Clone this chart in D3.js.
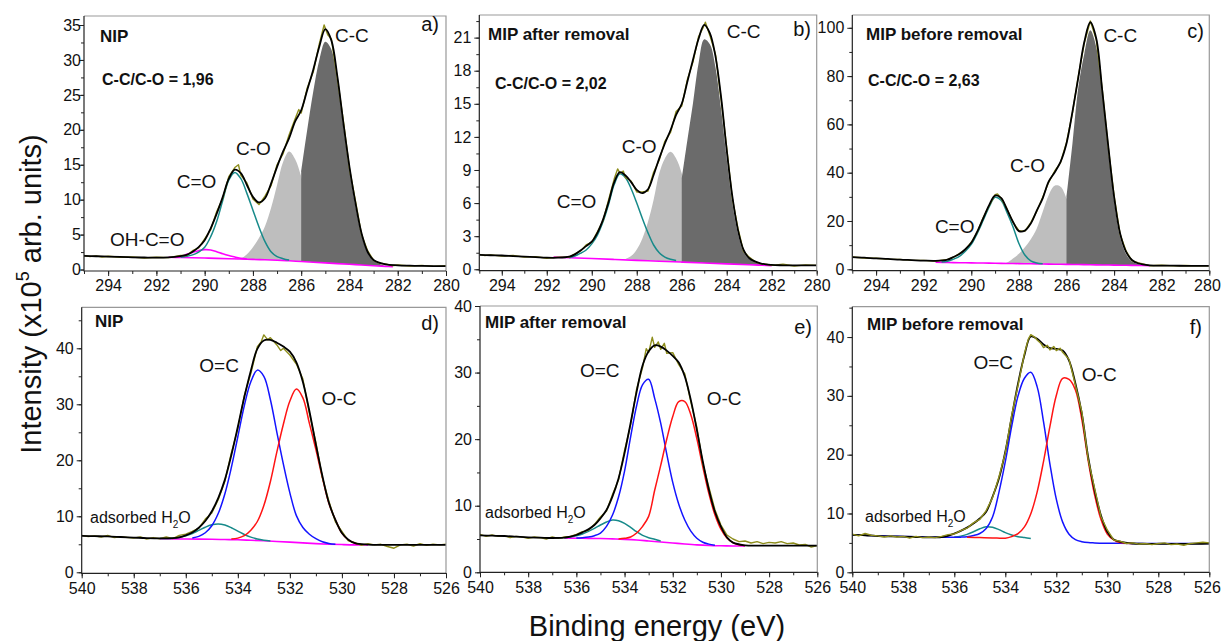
<!DOCTYPE html>
<html>
<head>
<meta charset="utf-8">
<script src="https://cdnjs.cloudflare.com/ajax/libs/d3/7.8.5/d3.min.js"></script>
<style>
  body { margin: 0; background: #fff; }
  svg { display: block; font-family: 'Liberation Sans', Arial, sans-serif; }
</style>
</head>
<body>
<svg id="chart" width="1221" height="641"></svg>
<script>
  //
  // Data: [binding energy (eV), intensity (x10^5)]
  //
  var c1sTicks = [294, 292, 290, 288, 286, 284, 282, 280]
  var o1sTicks = [540, 538, 536, 534, 532, 530, 528, 526]
  var aTicks = [0, 5, 10, 15, 20, 25, 30, 35]
  var bTicks = [0, 3, 6, 9, 12, 15, 18, 21]
  var cTicks = [0, 20, 40, 60, 80, 100]
  var oTicks = [0, 10, 20, 30, 40]

  // a) C1s NIP
  var aRaw = [[295,2.0],[294.75,1.85],[294.5,1.95],[294.25,1.8],[294,1.9],[293.5,1.75],[293,1.8],[292.5,1.65],[292,1.75],[291.5,1.7],[291,2.0],[290.75,2.0],[290.5,2.7],[290.25,3.1],[290,4.4],[289.75,5.7],[289.5,8.3],[289.25,10.2],[289,13.3],[288.75,14.6],[288.6,15.0],[288.5,13.5],[288.25,12.4],[288,10.1],[287.75,9.3],[287.5,10.5],[287.25,12.0],[287,15.0],[286.75,16.6],[286.5,19.3],[286.25,21.6],[286.1,22.9],[286,22.4],[285.75,26.0],[285.5,28.3],[285.25,32.3],[285.05,35.0],[284.9,33.6],[284.75,33.0],[284.5,27.3],[284.25,21.2],[284,14.4],[283.75,9.8],[283.5,5.0],[283.25,2.7],[283,1.3],[282.75,0.9],[282.5,0.8],[282.25,0.55],[282,0.65],[281.5,0.5],[281,0.6],[280.5,0.45],[280,0.55]]
  var aFit = [[295,1.95],[294.5,1.9],[294,1.85],[293.5,1.8],[293,1.75],[292.5,1.72],[292,1.7],[291.5,1.75],[291,1.93],[290.75,2.1],[290.5,2.55],[290.25,3.2],[290,4.2],[289.75,5.9],[289.5,8.0],[289.25,10.4],[289,13.0],[288.75,14.3],[288.5,13.8],[288.25,12.1],[288,10.4],[287.75,9.6],[287.5,10.2],[287.25,12.3],[287,14.7],[286.75,16.9],[286.5,18.8],[286.25,21.2],[286,22.8],[285.75,25.7],[285.5,28.6],[285.25,31.9],[285,34.4],[284.75,32.8],[284.5,27.6],[284.25,20.9],[284,14.7],[283.75,9.5],[283.5,5.2],[283.25,2.55],[283,1.36],[282.5,0.74],[282,0.6],[281.5,0.55],[281,0.52],[280.5,0.5],[280,0.5]]
  var aBg = [[291.5,1.75],[291,1.72],[290.5,1.68],[290,1.64],[289.5,1.6],[289,1.55],[288.5,1.5],[288,1.45],[287.5,1.4],[287,1.33],[286.5,1.25],[286,1.15],[285.5,1.05],[285,0.95],[284.5,0.85],[284,0.75],[283.5,0.65],[283,0.55],[282.5,0.45],[282.2,0.4]]
  var aCOOH = [[291,1.75],[290.75,2.2],[290.5,2.45],[290.25,2.7],[290,2.85],[289.75,2.8],[289.5,2.55],[289.25,2.25],[289,2.0],[288.75,1.8],[288.5,1.6],[288.25,1.5]]
  var aCdO = [[291,1.75],[290.75,1.9],[290.5,2.1],[290.25,2.5],[290,3.2],[289.75,4.7],[289.5,6.9],[289.25,9.9],[289,12.8],[288.75,13.9],[288.5,13.0],[288.25,10.9],[288,8.5],[287.75,6.1],[287.5,4.0],[287.25,2.55],[287,1.84],[286.75,1.55],[286.5,1.35]]
  var aCO = [[288.75,1.45],[288.5,1.6],[288.25,2.2],[288,3.2],[287.75,4.5],[287.5,6.2],[287.25,8.8],[287,12.1],[286.75,15.4],[286.5,16.9],[286.25,15.8],[286,13.3],[285.75,10.2],[285.5,7.3],[285.25,5.2],[285,3.75],[284.75,2.3],[284.5,1.6],[284.25,1.2],[284,0.9]]
  var aCC = [[286,14],[285.75,20],[285.5,25.5],[285.25,30],[285,32.6],[284.75,31.5],[284.5,26.8],[284.25,20.3],[284,14.1],[283.75,9.0],[283.5,4.9],[283.25,2.4],[283,1.3],[282.75,0.8],[282.5,0.5]]

  // b) C1s MIP after removal
  var bRaw = [[295,1.35],[294.75,1.25],[294.5,1.3],[294,1.2],[293.5,1.25],[293,1.1],[292.5,1.15],[292,1.0],[291.5,1.1],[291,1.1],[290.75,1.4],[290.5,1.65],[290.25,2.2],[290,2.45],[289.75,3.4],[289.5,4.4],[289.25,6.3],[289,8.2],[288.85,9.1],[288.75,8.7],[288.6,8.9],[288.5,8.3],[288.25,8.0],[288,7.0],[287.75,7.0],[287.5,7.1],[287.25,8.8],[287,9.9],[286.75,11.6],[286.5,12.4],[286.25,14.3],[286,14.8],[285.75,17.2],[285.5,18.8],[285.25,21.1],[285.05,21.9],[284.95,22.4],[284.75,21.2],[284.5,19.5],[284.25,15.4],[284,11.0],[283.75,6.4],[283.5,3.7],[283.25,1.6],[283,1.1],[282.75,0.7],[282.5,0.5],[282.25,0.45],[282,0.35],[281.5,0.45],[281,0.3],[280.5,0.4],[280,0.35]]
  var bFit = [[295,1.3],[294.5,1.27],[294,1.25],[293.5,1.2],[293,1.15],[292.5,1.1],[292,1.05],[291.5,1.05],[291,1.15],[290.75,1.35],[290.5,1.7],[290.25,2.1],[290,2.5],[289.75,3.3],[289.5,4.5],[289.25,6.1],[289,7.9],[288.75,8.8],[288.5,8.5],[288.25,7.9],[288,7.2],[287.75,6.9],[287.5,7.25],[287.25,8.55],[287,10.05],[286.75,11.4],[286.5,12.6],[286.25,14.0],[286,15.0],[285.75,17.0],[285.5,19.0],[285.25,20.9],[285,22.15],[284.75,21.4],[284.5,19.3],[284.25,15.6],[284,10.8],[283.75,6.6],[283.5,3.55],[283.25,1.75],[283,1.0],[282.5,0.54],[282,0.39],[281.5,0.36],[281,0.35],[280.5,0.35],[280,0.35]]
  var bBg = [[291.7,1.1],[291,1.05],[290,0.97],[289,0.89],[288,0.81],[287,0.73],[286,0.65],[285,0.57],[284,0.49],[283,0.41],[282,0.33]]
  var bCdO = [[291,1.05],[290.75,1.2],[290.5,1.45],[290.25,1.75],[290,2.3],[289.75,3.1],[289.5,4.3],[289.25,5.9],[289,7.7],[288.75,8.65],[288.5,8.3],[288.25,7.3],[288,6.0],[287.75,4.6],[287.5,3.3],[287.25,2.2],[287,1.5],[286.75,1.1],[286.5,0.9],[286.25,0.8]]
  var bCO = [[288.5,0.95],[288.25,1.2],[288,1.8],[287.75,2.8],[287.5,4.3],[287.25,6.3],[287,8.7],[286.75,10.05],[286.5,10.65],[286.25,10.05],[286,8.7],[285.75,6.6],[285.5,4.6],[285.25,3.1],[285,2.2],[284.75,1.6],[284.5,1.2],[284.25,0.9],[284,0.7]]
  var bCC = [[286,8.2],[285.75,11.7],[285.5,15.05],[285.25,18.7],[285,20.85],[284.75,20.4],[284.5,18.3],[284.25,14.5],[284,10.0],[283.75,6.0],[283.5,3.2],[283.25,1.6],[283,0.9],[282.5,0.48],[282,0.35]]

  // c) C1s MIP before removal
  var cRaw = [[295,5.1],[294.5,4.7],[294,4.6],[293.5,4.2],[293,4.1],[292.5,3.7],[292,3.7],[291.5,3.4],[291,4.1],[290.75,5.0],[290.5,6.5],[290.25,8.2],[290,11.2],[289.75,15.4],[289.5,21.4],[289.25,26.3],[289,30.9],[288.9,31.2],[288.75,29.4],[288.5,25.1],[288.25,19.5],[288,16.0],[287.75,15.8],[287.5,19.3],[287.25,24.0],[287,29.8],[286.75,36.0],[286.5,40.6],[286.25,44.2],[286,52.5],[285.75,64.8],[285.5,80.2],[285.25,93.8],[285,102.8],[284.75,95.2],[284.5,74.6],[284.25,51.0],[284,30.4],[283.75,14.6],[283.5,7.6],[283.25,3.6],[283,2.7],[282.5,1.5],[282,1.7],[281.5,1.4],[281,1.6],[280.5,1.4],[280,1.5]]
  var cFit = [[295,5.0],[294.5,4.8],[294,4.5],[293.5,4.3],[293,4.0],[292.5,3.8],[292,3.6],[291.5,3.5],[291,4.0],[290.75,5.1],[290.5,6.3],[290.25,8.3],[290,11.0],[289.75,15.6],[289.5,21.1],[289.25,26.6],[289,30.5],[288.75,29.6],[288.5,24.8],[288.25,19.7],[288,15.8],[287.75,16.0],[287.5,19.0],[287.25,24.3],[287,29.4],[286.75,36.3],[286.5,40.1],[286.25,44.5],[286,52.1],[285.75,65.2],[285.5,79.7],[285.25,94.2],[285,102.3],[284.75,95.6],[284.5,74.2],[284.25,51.4],[284,30.0],[283.75,14.9],[283.5,7.3],[283.25,3.85],[283,2.5],[282.5,1.65],[282,1.5],[281.5,1.5],[281,1.45],[280.5,1.45],[280,1.45]]
  var cBg = [[291.5,2.9],[291,2.82],[290.5,2.74],[290,2.67],[289.5,2.59],[289,2.51],[288.5,2.43],[288,2.36],[287.5,2.28],[287,2.2],[286.5,2.12],[286,2.04],[285.5,1.97],[285,1.89],[284.5,1.81],[284,1.73],[283.5,1.66],[283,1.58],[282.5,1.5]]
  var cCdO = [[291.25,3.0],[291,3.3],[290.75,4.2],[290.5,5.4],[290.25,7.5],[290,10.3],[289.75,14.9],[289.5,20.3],[289.25,25.8],[289,29.8],[288.75,28.6],[288.5,23.5],[288.25,17.6],[288,10.7],[287.75,5.9],[287.5,3.5],[287.25,2.6],[287,2.3]]
  var cCO = [[288.75,2.5],[288.5,2.8],[288.25,4.5],[288,6.4],[287.75,9.1],[287.5,12.4],[287.25,16.9],[287,23.8],[286.75,30.7],[286.5,34.6],[286.25,34.2],[286,29.4],[285.75,23],[285.5,16],[285.25,10.5],[285,6.5],[284.75,4],[284.5,2.8],[284.25,2.2],[284,1.9]]
  var cCC = [[286,30],[285.75,52.1],[285.5,75.6],[285.25,89.4],[285,99],[284.75,92.1],[284.5,72.8],[284.25,49.4],[284,28.0],[283.75,13.5],[283.5,6.3],[283.25,3.2],[283,2.2],[282.5,1.5]]

  // d) O1s NIP
  var dRaw = [[540,6.6],[539.75,6.4],[539.5,6.5],[539.25,6.3],[539,6.6],[538.75,6.2],[538.5,6.35],[538,6.1],[537.75,6.3],[537.5,5.95],[537.25,6.2],[537,6.0],[536.75,6.3],[536.5,6.0],[536.25,6.6],[536,6.8],[535.75,7.3],[535.5,7.9],[535.25,9.5],[535,10.6],[534.75,13.0],[534.5,16.2],[534.25,21.3],[534,25.6],[533.75,31.6],[533.5,35.5],[533.25,40.3],[533.1,41.2],[533,42.4],[532.85,41.5],[532.75,41.9],[532.5,40.6],[532.35,39.6],[532.25,40.0],[532,38.8],[531.75,37.2],[531.5,34.5],[531.25,28.4],[531,23.2],[530.75,16.9],[530.5,12.7],[530.25,9.0],[530,7.3],[529.75,5.6],[529.5,5.3],[529.25,4.8],[529,5.1],[528.75,4.9],[528.5,5.0],[528.25,4.6],[528,4.3],[527.75,4.9],[527.5,5.0],[527.25,4.7],[527,5.1],[526.75,4.8],[526.5,5.0],[526.25,4.9],[526,5.0]]
  var dFit = [[540,6.5],[539.5,6.45],[539,6.4],[538.5,6.3],[538,6.2],[537.5,6.1],[537,6.05],[536.5,6.1],[536.25,6.25],[536,6.6],[535.75,7.1],[535.5,7.95],[535.25,9.15],[535,10.9],[534.75,13.3],[534.5,16.5],[534.25,20.9],[534,26.0],[533.75,31.3],[533.5,36.0],[533.25,39.9],[533,41.4],[532.75,41.5],[532.5,41.0],[532.25,40.3],[532,39.4],[531.75,37.5],[531.5,34.0],[531.25,28.8],[531,22.8],[530.75,17.2],[530.5,12.4],[530.25,9.35],[530,7.0],[529.75,5.8],[529.5,5.2],[529,4.95],[528.5,4.9],[528,4.9],[527.5,4.9],[527,4.9],[526.5,4.9],[526,4.9]]
  var dBg = [[537,6.0],[536.5,5.97],[536,5.95],[535.5,5.93],[535,5.9],[534.5,5.85],[534,5.8],[533.5,5.72],[533,5.62],[532.5,5.5],[532,5.38],[531.5,5.25],[531,5.12],[530.5,5.02],[530,4.95],[529.5,4.9],[529,4.9]]
  var dH2O = [[537,6.02],[536.5,6.09],[536.25,6.24],[536,6.51],[535.75,6.93],[535.5,7.48],[535.25,8.05],[535,8.48],[534.75,8.63],[534.5,8.43],[534.25,7.96],[534,7.35],[533.75,6.75],[533.5,6.28],[533.25,5.95],[533,5.74],[532.75,5.6]]
  var dOdC = [[535.75,6.13],[535.5,6.42],[535.25,7.06],[535,8.32],[534.75,10.53],[534.5,13.97],[534.25,18.68],[534,24.2],[533.75,29.76],[533.5,34.02],[533.25,36.1],[533,34.98],[532.75,30.86],[532.5,25.0],[532.25,19.3],[532,14.18],[531.75,10.12],[531.5,8.0],[531.25,6.8],[531,6.0],[530.75,5.45],[530.5,5.15],[530.25,5.0]]
  var dOC = [[534.25,5.93],[534,6.1],[533.75,6.54],[533.5,7.52],[533.25,9.07],[533,11.92],[532.75,16.16],[532.5,21.5],[532.25,26.44],[532,30.58],[531.75,32.72],[531.5,31.15],[531.25,26.59],[531,21.92],[530.75,16.87],[530.5,12.32],[530.25,9.35],[530,7.0],[529.75,5.77],[529.5,5.2],[529.25,4.95]]

  // e) O1s MIP after removal
  var eRaw = [[540,5.7],[539.75,5.4],[539.5,5.6],[539.25,5.4],[539,5.5],[538.75,5.2],[538.5,5.4],[538.25,5.3],[538,5.1],[537.75,5.3],[537.5,5.2],[537.25,5.0],[537,5.3],[536.75,5.1],[536.5,5.3],[536.25,5.4],[536,5.7],[535.75,6.1],[535.5,6.3],[535.25,7.2],[535,8.3],[534.75,9.2],[534.5,11.7],[534.25,13.9],[534,18.3],[533.75,22.1],[533.5,27.5],[533.25,30.8],[533.1,33.6],[533,33.0],[532.85,35.3],[532.75,33.8],[532.6,34.6],[532.5,33.5],[532.35,34.4],[532.25,32.9],[532,33.0],[531.75,31.2],[531.5,29.8],[531.25,25.6],[531,21.8],[530.75,16.3],[530.5,12.8],[530.25,9.4],[530,7.1],[529.75,5.6],[529.5,5.0],[529.25,4.6],[529,4.7],[528.75,4.4],[528.5,4.6],[528.25,4.3],[528,4.5],[527.75,4.4],[527.5,4.6],[527.25,4.3],[527,4.4],[526.75,4.1],[526.5,4.2],[526.25,3.8],[526,4.0]]
  var eFit = [[540,5.55],[539.5,5.5],[539,5.45],[538.5,5.35],[538,5.25],[537.5,5.2],[537,5.15],[536.5,5.2],[536.25,5.35],[536,5.6],[535.75,6.0],[535.5,6.45],[535.25,7.1],[535,8.1],[534.75,9.35],[534.5,11.4],[534.25,14.1],[534,17.9],[533.75,22.4],[533.5,27.1],[533.25,31.1],[533,33.2],[532.75,34.1],[532.5,33.9],[532.25,33.3],[532,32.5],[531.75,31.5],[531.5,29.4],[531.25,25.9],[531,21.4],[530.75,16.6],[530.5,12.4],[530.25,9.1],[530,6.85],[529.75,5.25],[529.5,4.45],[529,4.05],[528.5,4.0],[528,4.0],[527.5,4.0],[527,4.0],[526.5,4.0],[526,4.0]]
  var eBg = [[536.5,5.15],[536,5.12],[535.5,5.1],[535,5.07],[534.5,5.02],[534,4.95],[533.5,4.85],[533,4.7],[532.5,4.55],[532,4.4],[531.5,4.25],[531,4.12],[530.5,4.03],[530,3.98],[529.5,3.95],[529,3.95]]
  var eH2O = [[536.5,5.2],[536.25,5.3],[536,5.5],[535.75,5.75],[535.5,6.15],[535.25,6.6],[535,7.1],[534.75,7.55],[534.5,7.85],[534.25,7.75],[534,7.35],[533.75,6.75],[533.5,6.1],[533.25,5.55],[533,5.2],[532.75,4.95],[532.5,4.7]]
  var eOdC = [[536,5.15],[535.75,5.2],[535.5,5.3],[535.25,5.5],[535,5.9],[534.75,6.9],[534.5,8.6],[534.25,11.3],[534,15.2],[533.75,20.3],[533.5,25.0],[533.25,28.2],[533,29.0],[532.75,26.13],[532.5,22.4],[532.25,17.78],[532,13.5],[531.75,10.23],[531.5,7.85],[531.25,6.18],[531,5.12],[530.75,4.52],[530.5,4.23],[530.25,4.05]]
  var eOC = [[534.25,5.0],[534,5.1],[533.75,5.3],[533.5,5.9],[533.25,6.9],[533,8.4],[532.75,12.33],[532.5,16.05],[532.25,19.98],[532,23.4],[531.75,25.63],[531.5,25.65],[531.25,23.68],[531,20.07],[530.75,15.82],[530.5,11.81],[530.25,8.64],[530,6.47],[529.75,5.16],[529.5,4.47],[529.25,4.15],[529,4.02]]

  // f) O1s MIP before removal
  var fRaw = [[540,6.5],[539.75,6.2],[539.5,6.6],[539.25,6.3],[539,6.2],[538.75,6.0],[538.5,6.2],[538.25,6.0],[538,6.1],[537.75,5.8],[537.5,6.1],[537.25,5.9],[537,6.0],[536.75,5.9],[536.5,6.1],[536.25,6.4],[536,6.5],[535.75,7.1],[535.5,7.5],[535.25,8.4],[535,9.0],[534.75,10.5],[534.5,12.7],[534.25,16.2],[534,20.3],[533.75,26.7],[533.5,31.8],[533.25,37.2],[533.1,39.6],[533,40.4],[532.85,40.0],[532.75,39.5],[532.6,38.9],[532.5,38.2],[532.35,38.6],[532.25,37.8],[532.1,38.4],[532,37.7],[531.85,38.1],[531.75,37.4],[531.5,36.2],[531.25,31.8],[531,27.3],[530.75,19.2],[530.5,14.3],[530.25,9.5],[530,7.2],[529.75,5.5],[529.5,5.3],[529.25,4.9],[529,5.0],[528.75,4.8],[528.5,4.9],[528.25,4.7],[528,4.9],[527.75,5.0],[527.5,4.7],[527.25,4.8],[527,4.6],[526.75,4.9],[526.5,5.0],[526.25,5.1],[526,5.0]]
  var fFit = [[540,6.35],[539.5,6.3],[539,6.15],[538.5,6.1],[538,6.05],[537.5,6.0],[537,5.95],[536.5,6.0],[536.25,6.2],[536,6.6],[535.75,7.05],[535.5,7.6],[535.25,8.3],[535,9.15],[534.75,10.3],[534.5,12.85],[534.25,15.95],[534,20.5],[533.75,26.4],[533.5,32.1],[533.25,36.9],[533,40.1],[532.75,39.7],[532.5,38.75],[532.25,38.1],[532,38.0],[531.75,37.7],[531.5,36.0],[531.25,32.1],[531,27.0],[530.75,19.6],[530.5,14.0],[530.25,9.7],[530,6.9],[529.75,5.6],[529.5,5.2],[529,4.9],[528.5,4.85],[528,4.85],[527.5,4.85],[527,4.85],[526.5,4.85],[526,4.9]]
  var fH2O = [[536,6.0],[535.75,6.15],[535.5,6.45],[535.25,6.9],[535,7.4],[534.75,7.75],[534.5,7.65],[534.25,7.25],[534,6.75],[533.75,6.35],[533.5,6.05],[533.25,5.9],[533,5.75]]
  var fOdC = [[540,6.35],[539.5,6.3],[539,6.2],[538.5,6.15],[538,6.1],[537.5,6.05],[537,6.0],[536.5,5.98],[536,5.96],[535.75,5.98],[535.5,6.05],[535.25,6.25],[535,6.6],[534.75,7.45],[534.5,9.4],[534.25,13.6],[534,18.8],[533.75,24.8],[533.5,30.0],[533.25,33.0],[533,34.0],[532.75,31.53],[532.5,25.57],[532.25,18.41],[532,12.43],[531.75,8.53],[531.5,6.48],[531.25,5.56],[531,5.21],[530.75,5.05],[530.5,5.0],[530,4.95],[529.5,4.92],[529,4.9],[528.5,4.9],[528,4.9],[527.5,4.9],[527,4.9],[526.5,4.9],[526,4.9]]
  var fOC = [[535.5,5.95],[535,5.9],[534.5,5.85],[534,5.81],[533.75,6.07],[533.5,6.57],[533.25,7.72],[533,9.96],[532.75,13.68],[532.5,18.87],[532.25,24.81],[532,30.05],[531.75,32.99],[531.5,32.8],[531.25,31.0],[531,26.0],[530.75,19.0],[530.5,13.2],[530.25,9.0],[530,6.5],[529.75,5.5],[529.5,5.05],[529,4.9]]

  //
  // Styles
  //
  var colorRaw = '#8e8e1c'
  var colorFit = '#000'
  var colorBg = '#ff00ff'
  var colorTeal = '#178a8a'
  var colorBlue = '#1414ff'
  var colorRed = '#ff1414'
  var colorLight = '#bebebe'
  var colorDark = '#6b6b6b'
  var pageWidth = 1221

  var panels = [
    { frame: [84, 16, 446, 271], xd: [295, 280], yd: [-0.21, 36.29], xt: c1sTicks, yt: aTicks, ym: 2.5, gap: -2,
      bg: aBg, fills: [[aCO, colorLight], [aCC, colorDark]],
      lines: [[aBg, colorBg, 1.6], [aCOOH, colorBg, 1.6], [aCdO, colorTeal, 1.5], [aRaw, colorRaw, 1.4, 1], [aFit, colorFit, 1.8]],
      title: ['NIP', 100, 42], ratio: ['C-C/C-O = 1,96', 102, 85], letter: ['a)', 439, 31],
      peaks: [['C-C', 284.6, 32.6], ['C-O', 288.7, 16.4], ['C=O', 291.16, 11.6], ['OH-C=O', 293.92, 3.36]] },
    { frame: [479.3, 15, 816.7, 270.7], xd: [295, 280], yd: [-0.13, 23.05], xt: c1sTicks, yt: bTicks, ym: 1.5, gap: 3,
      bg: bBg, fills: [[bCO, colorLight], [bCC, colorDark]],
      lines: [[bBg, colorBg, 1.6], [bCdO, colorTeal, 1.5], [bRaw, colorRaw, 1.4, 1], [bFit, colorFit, 1.8]],
      title: ['MIP after removal', 488, 40], ratio: ['C-C/C-O = 2,02', 495, 89], letter: ['b)', 811, 36],
      peaks: [['C-C', 284.0, 20.94], ['C-O', 288.67, 10.5], ['C=O', 291.56, 5.53]] },
    { frame: [852.3, 15, 1209.3, 270.7], xd: [295, 280], yd: [-0.58, 105.3], xt: c1sTicks, yt: cTicks, ym: 10, gap: 3,
      bg: cBg, fills: [[cCO, colorLight], [cCC, colorDark]],
      lines: [[cBg, colorBg, 1.6], [cCdO, colorTeal, 1.5], [cRaw, colorRaw, 1.4, 1], [cFit, colorFit, 1.8]],
      title: ['MIP before removal', 866, 40], ratio: ['C-C/C-O = 2,63', 868, 86], letter: ['c)', 1204, 38],
      peaks: [['C-C', 284.45, 94.2], ['C-O', 288.37, 40.4], ['C=O', 291.53, 14.9]] },
    { frame: [81.7, 307.3, 446, 573.3], xd: [540, 526], yd: [-0.18, 47.32], xt: o1sTicks, yt: oTicks, ym: 5, gap: 3,
      bg: dBg, fills: [],
      lines: [[dBg, colorBg, 1.6], [dH2O, colorTeal, 1.5], [dOdC, colorBlue, 1.5], [dOC, colorRed, 1.5], [dRaw, colorRaw, 1.4, 1], [dFit, colorFit, 1.8]],
      title: ['NIP', 95, 327], letter: ['d)', 439, 330],
      peaks: [['O=C', 535.48, 35.8], ['O-C', 530.78, 29.9]], water: [539.68, 8.75] },
    { frame: [480, 306, 817.3, 572.3], xd: [540, 526], yd: [0, 40], xt: o1sTicks, yt: oTicks, ym: 5, gap: 3,
      bg: eBg, fills: [],
      lines: [[eBg, colorBg, 1.6], [eH2O, colorTeal, 1.5], [eOdC, colorBlue, 1.5], [eOC, colorRed, 1.5], [eRaw, colorRaw, 1.4, 1], [eFit, colorFit, 1.8]],
      title: ['MIP after removal', 485, 328], letter: ['e)', 812, 334],
      peaks: [['O=C', 535.85, 29.4], ['O-C', 530.59, 25.1]], water: [539.79, 8.1] },
    { frame: [852.3, 306.7, 1209.3, 572.3], xd: [540, 526], yd: [0, 45.16], xt: o1sTicks, yt: oTicks, ym: 5, gap: 3,
      bg: null, fills: [],
      lines: [[fH2O, colorTeal, 1.5], [fOdC, colorBlue, 1.5], [fOC, colorRed, 1.5], [fFit, colorFit, 1.8], [fRaw, colorRaw, 1.4, 1]],
      title: ['MIP before removal', 867, 330], letter: ['f)', 1202, 334],
      peaks: [['O=C', 535.25, 34.6], ['O-C', 531.0, 32.6]], water: [539.5, 8.6] }
  ]

  var svg = d3.select('#chart')
  var defs = svg.append('defs')

  // component area closed down onto the background line
  function areaPath(comp, bg, line) {
    var hi = comp[0][0], lo = comp[comp.length - 1][0]
    var base = bg.filter(function (d) { return d[0] <= hi && d[0] >= lo }).slice().reverse()
    return line(comp) + 'L' + line(base).slice(1) + 'Z'
  }

  function drawPanel(p, i) {
    var f = p.frame
    var x = d3.scaleLinear().domain(p.xd).range([f[0], f[2]])
    var y = d3.scaleLinear().domain(p.yd).range([f[3], f[1]])
    var smooth = d3.line().x(function (d) { return x(d[0]) }).y(function (d) { return y(d[1]) })
      .curve(d3.curveCatmullRom.alpha(0.5))
    var jag = d3.line().x(function (d) { return x(d[0]) }).y(function (d) { return y(d[1]) })

    defs.append('clipPath').attr('id', 'clip' + i)
      .append('rect').attr('x', f[0]).attr('y', f[1]).attr('width', f[2] - f[0]).attr('height', f[3] - f[1])

    var g = svg.append('g')
    var plot = g.append('g').attr('clip-path', 'url(#clip' + i + ')')

    p.fills.forEach(function (s) {
      plot.append('path').attr('d', areaPath(s[0], p.bg, smooth)).attr('fill', s[1])
    })
    p.lines.forEach(function (s) {
      plot.append('path').attr('d', (s[3] ? jag : smooth)(s[0]))
        .attr('fill', 'none').attr('stroke', s[1]).attr('stroke-width', s[2])
        .attr('stroke-linejoin', 'round')
    })

    // frame
    g.append('path').attr('d', 'M' + f[0] + ',' + f[1] + 'H' + f[2] + 'V' + f[3])
      .attr('fill', 'none').attr('stroke', '#999').attr('stroke-width', 1.2)
    g.append('path').attr('d', 'M' + f[0] + ',' + f[1] + 'V' + f[3] + 'H' + f[2])
      .attr('fill', 'none').attr('stroke', '#222').attr('stroke-width', 1.2)

    // axes
    var xMinor = d3.range(Math.min(p.xd[0], p.xd[1]), Math.max(p.xd[0], p.xd[1]) + 0.01, 1)
    var yMinor = d3.range(0, p.yd[1], p.ym)
    g.append('g').attr('transform', 'translate(0,' + f[3] + ')')
      .call(d3.axisBottom(x).tickValues(xMinor).tickSize(3).tickFormat(''))
    var xa = g.append('g').attr('transform', 'translate(0,' + f[3] + ')')
      .call(d3.axisBottom(x).tickValues(p.xt).tickSize(5).tickPadding(4).tickFormat(d3.format('d')))
    g.append('g').attr('transform', 'translate(' + f[0] + ',0)')
      .call(d3.axisLeft(y).tickValues(yMinor).tickSize(3).tickFormat(''))
    g.append('g').attr('transform', 'translate(' + f[0] + ',0)')
      .call(d3.axisLeft(y).tickValues(p.yt).tickSize(5).tickPadding(p.gap).tickFormat(d3.format('d')))
    g.selectAll('.domain').remove()
    g.selectAll('.tick line').attr('stroke', '#222')
    g.selectAll('.tick text').attr('font-size', 16).attr('fill', '#111')
      .attr('font-family', "'Liberation Sans', Arial, sans-serif")
    // keep the last label inside the page
    xa.selectAll('.tick text').filter(function (d) { return x(d) + 14 > pageWidth })
      .attr('text-anchor', 'end').attr('dx', 11)

    // texts
    g.append('text').attr('x', p.title[1]).attr('y', p.title[2]).text(p.title[0])
      .attr('font-size', 17).attr('font-weight', 'bold').attr('fill', '#111')
    if (p.ratio) {
      g.append('text').attr('x', p.ratio[1]).attr('y', p.ratio[2]).text(p.ratio[0])
        .attr('font-size', 16).attr('font-weight', 'bold').attr('fill', '#111')
    }
    g.append('text').attr('x', p.letter[1]).attr('y', p.letter[2]).text(p.letter[0])
      .attr('font-size', 20).attr('text-anchor', 'end').attr('fill', '#111')
    p.peaks.forEach(function (k) {
      g.append('text').attr('x', x(k[1])).attr('y', y(k[2])).text(k[0])
        .attr('font-size', 19).attr('fill', '#111')
    })
    if (p.water) {
      var t = g.append('text').attr('x', x(p.water[0])).attr('y', y(p.water[1]))
        .attr('font-size', 16).attr('fill', '#111')
      t.append('tspan').text('adsorbed H')
      t.append('tspan').text('2').attr('font-size', 10).attr('dy', 5)
      t.append('tspan').text('O').attr('dy', -5)
    }
  }

  panels.forEach(drawPanel)

  // axis titles
  var yt = svg.append('text').attr('transform', 'translate(41,294) rotate(-90)')
    .attr('text-anchor', 'middle').attr('font-size', 29).attr('fill', '#111')
  yt.append('tspan').text('Intensity (x10')
  yt.append('tspan').text('5').attr('font-size', 18).attr('dy', -12)
  yt.append('tspan').text(' arb. units)').attr('dy', 12)

  svg.append('text').attr('x', 657).attr('y', 636).attr('text-anchor', 'middle')
    .attr('font-size', 29).attr('fill', '#111').text('Binding energy (eV)')
</script>
</body>
</html>
